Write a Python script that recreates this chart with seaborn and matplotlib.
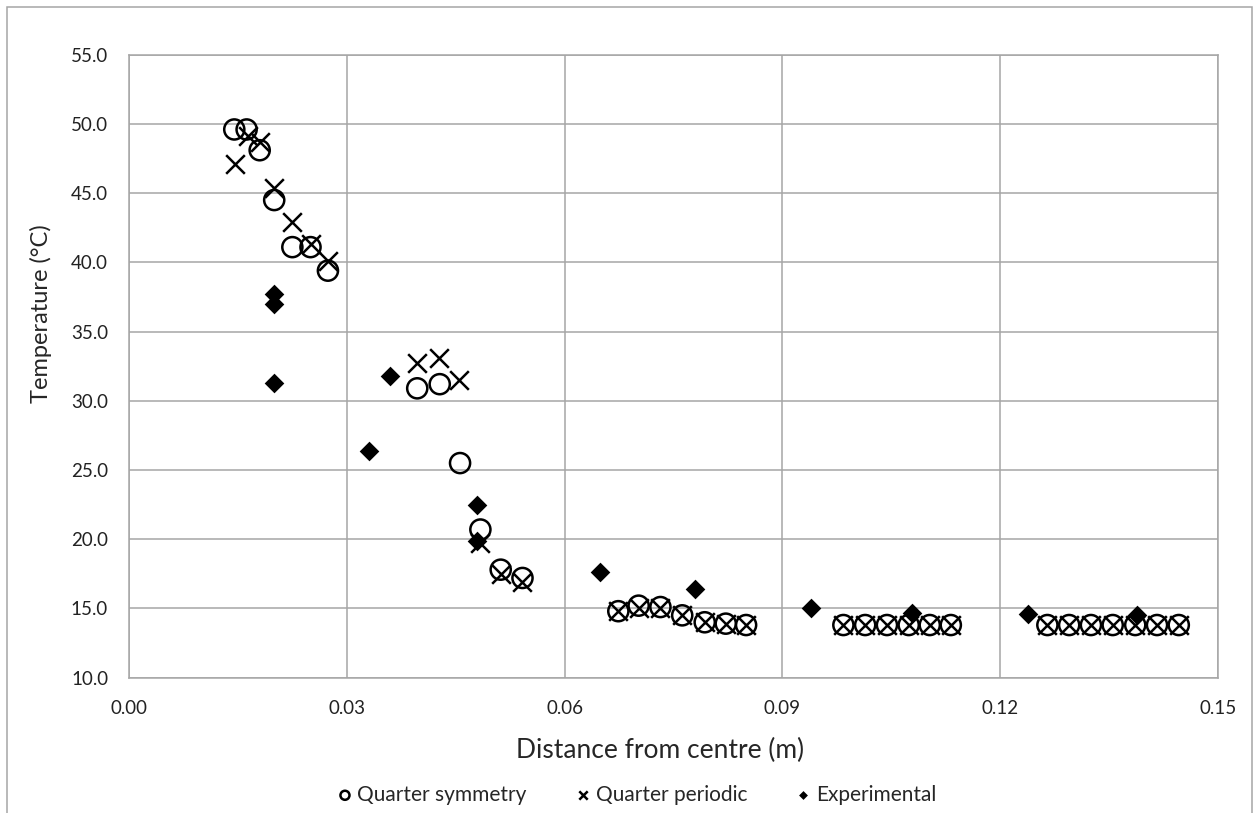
import matplotlib
matplotlib.use("Agg")
import matplotlib.pyplot as plt
import seaborn as sns
import pandas as pd
from matplotlib.patches import Rectangle
from matplotlib.ticker import FormatStrFormatter

# Quarter symmetry (open circles)
sym_x = [0.0145, 0.0162, 0.0180, 0.0200, 0.0225, 0.0250, 0.0274,
         0.0397, 0.0428, 0.0456, 0.0484, 0.0512, 0.0542,
         0.0674, 0.0702, 0.0732, 0.0762, 0.0793, 0.0822, 0.0850,
         0.0984, 0.1014, 0.1044, 0.1074, 0.1103, 0.1132,
         0.1265, 0.1295, 0.1325, 0.1355, 0.1386, 0.1416, 0.1446]
sym_y = [49.6, 49.6, 48.1, 44.5, 41.1, 41.1, 39.4,
         30.9, 31.2, 25.5, 20.7, 17.8, 17.2,
         14.8, 15.2, 15.1, 14.5, 14.0, 13.9, 13.8,
         13.8, 13.8, 13.8, 13.8, 13.8, 13.8,
         13.8, 13.8, 13.8, 13.8, 13.8, 13.8, 13.8]

# Quarter periodic (crosses)
per_x = [0.0146, 0.0164, 0.0180, 0.0200, 0.0225, 0.0250, 0.0274,
         0.0397, 0.0427, 0.0455, 0.0483, 0.0512, 0.0542,
         0.0674, 0.0702, 0.0732, 0.0762, 0.0793, 0.0822, 0.0850,
         0.0984, 0.1014, 0.1044, 0.1074, 0.1103, 0.1132,
         0.1265, 0.1295, 0.1325, 0.1355, 0.1386, 0.1416, 0.1446]
per_y = [47.1, 49.1, 48.7, 45.4, 42.9, 41.3, 40.1,
         32.7, 33.1, 31.5, 19.7, 17.5, 16.9,
         14.8, 15.0, 15.0, 14.5, 14.0, 13.9, 13.8,
         13.8, 13.8, 13.8, 13.8, 13.8, 13.8,
         13.8, 13.8, 13.8, 13.8, 13.8, 13.8, 13.8]

# Experimental (filled diamonds)
exp_x = [0.0200, 0.0200, 0.0200, 0.0330, 0.0360, 0.0480, 0.0480,
         0.0649, 0.0780, 0.0939, 0.1079, 0.1239, 0.1389]
exp_y = [37.7, 37.0, 31.3, 26.4, 31.8, 22.5, 19.9,
         17.6, 16.4, 15.0, 14.7, 14.6, 14.5]

x_ticks = [0.00, 0.03, 0.06, 0.09, 0.12, 0.15]
y_ticks = [10, 15, 20, 25, 30, 35, 40, 45, 50, 55]

sns.set_style("white")
plt.rcParams['font.family'] = ['Lato', 'DejaVu Sans']

fig = plt.figure(figsize=(12.55, 8.13), dpi=100)
ax = fig.add_axes([0.1028, 0.1665, 0.8677, 0.7662])

sym = pd.DataFrame({'x': sym_x, 'y': sym_y})
per = pd.DataFrame({'x': per_x, 'y': per_y})
exp = pd.DataFrame({'x': exp_x, 'y': exp_y})

sns.scatterplot(data=sym, x='x', y='y', marker='o', s=210, color='black',
                linewidth=1.8, label='Quarter symmetry', ax=ax, zorder=3)
ax.collections[-1].set_facecolor('none')
ax.collections[-1].set_edgecolor('black')
sns.scatterplot(data=per, x='x', y='y', marker='x', s=180, color='black',
                linewidth=1.8, label='Quarter periodic', ax=ax, zorder=4)
sns.scatterplot(data=exp, x='x', y='y', marker='D', s=100, color='black',
                linewidth=0, label='Experimental', ax=ax, zorder=5)

ax.set_xlim(0, 0.15)
ax.set_ylim(10, 55)
ax.set_xticks(x_ticks)
ax.set_yticks(y_ticks)
ax.xaxis.set_major_formatter(FormatStrFormatter('%.2f'))
ax.yaxis.set_major_formatter(FormatStrFormatter('%.1f'))
ax.tick_params(length=0, labelsize=13.5, colors='#222222')
ax.tick_params(axis='x', pad=16)
ax.tick_params(axis='y', pad=15)
ax.grid(True, color='#a6a6a6', linewidth=1.1)
ax.set_axisbelow(True)
for sp in ax.spines.values():
    sp.set_color('#a6a6a6')
    sp.set_linewidth(1.1)

ax.set_xlabel('Distance from centre (m)', fontsize=19)
ax.set_ylabel('Temperature (°C)', fontsize=17)
ax.xaxis.set_label_coords(0.488, -0.096)
ax.yaxis.set_label_coords(-0.071, 0.585)

leg = ax.legend(loc='center', bbox_to_anchor=(0.465, -0.188), ncol=3,
                frameon=False, fontsize=15, markerscale=0.45,
                handletextpad=0.1, columnspacing=2.2, handlelength=1.0)
for h in leg.legend_handles:
    h.set_edgecolor('black')
leg.legend_handles[0].set_facecolor('none')

fig.patches.append(Rectangle((7 / 1255, -0.05), 1245 / 1255, 1 - 7 / 813 + 0.05,
                             transform=fig.transFigure, fill=False,
                             edgecolor='#a6a6a6', linewidth=1.1))

fig.savefig('out.png', dpi=100)
